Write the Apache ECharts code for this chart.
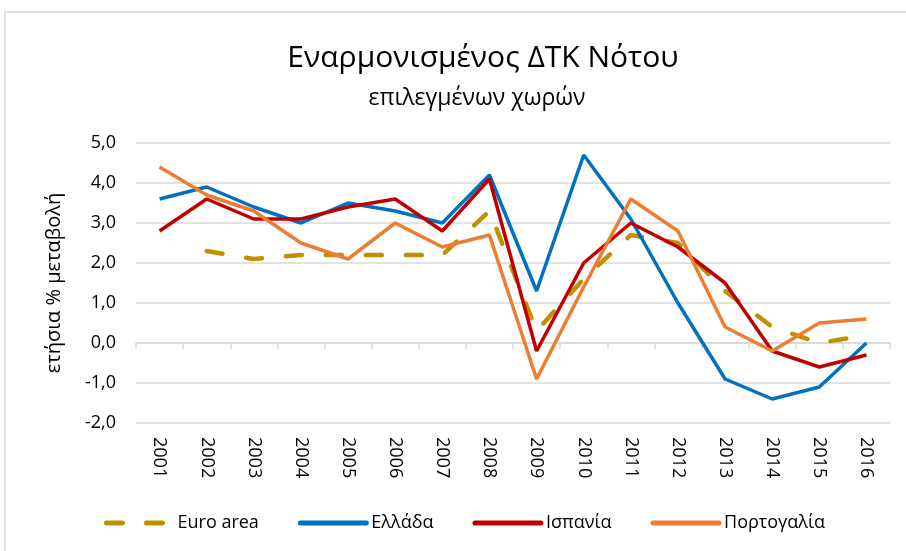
<!DOCTYPE html>
<html><head><meta charset="utf-8">
<script src="https://cdn.jsdelivr.net/npm/echarts@6/dist/echarts.min.js"></script>
<style>html,body{margin:0;padding:0;background:#fff}#c{width:906px;height:551px}</style>
</head><body><div id="c"></div>
<script>
const years = ['2001','2002','2003','2004','2005','2006','2007','2008','2009','2010','2011','2012','2013','2014','2015','2016'];
const euroArea = [null, 2.3, 2.1, 2.2, 2.2, 2.2, 2.2, 3.3, 0.3, 1.6, 2.7, 2.5, 1.3, 0.4, 0.0, 0.2];
const greece   = [3.6, 3.9, 3.4, 3.0, 3.5, 3.3, 3.0, 4.2, 1.3, 4.7, 3.1, 1.0, -0.9, -1.4, -1.1, 0.0];
const spain    = [2.8, 3.6, 3.1, 3.1, 3.4, 3.6, 2.8, 4.1, -0.2, 2.0, 3.0, 2.4, 1.5, -0.2, -0.6, -0.3];
const portugal = [4.4, 3.7, 3.3, 2.5, 2.1, 3.0, 2.4, 2.7, -0.9, 1.4, 3.6, 2.8, 0.4, -0.2, 0.5, 0.6];
const yTicks = [-2, -1, 0, 1, 2, 3, 4, 5];

const FONT = "'Open Sans', sans-serif";
const chart = echarts.init(document.getElementById('c'));
function mk(name, data, color, dashed) {
  return {
    name, type: 'line', data, xAxisIndex: 0, showSymbol: false, symbol: 'none',
    connectNulls: false,
    lineStyle: dashed ? {color, width: 4.5, type: [16, 24], cap: 'round'} : {color, width: 3.5},
    itemStyle: {color}
  };
}
chart.setOption({
  animation: false,
  title: [
    {text: 'Εναρμονισμένος ΔΤΚ Νότου', left: 478, top: 38, textAlign: 'center',
     textStyle: {fontFamily: FONT, fontSize: 30, fontWeight: 'normal', color: '#000'}},
    {text: 'επιλεγμένων χωρών', left: 472, top: 82, textAlign: 'center',
     textStyle: {fontFamily: FONT, fontSize: 23, fontWeight: 'normal', color: '#000'}}
  ],
  graphic: [
    {type: 'polyline', shape: {points: [[5, 551], [5, 12], [906, 12]]},
     style: {stroke: '#d9d9d9', lineWidth: 1.5, fill: null}}
  ],
  grid: {left: 136, right: 16, top: 143, bottom: 128, containLabel: false},
  legend: {
    left: 99, top: 509, itemWidth: 66, itemHeight: 10, itemGap: 39,
    itemStyle: {opacity: 0},
    lineStyle: {width: 5, cap: 'round'},
    textStyle: {fontFamily: FONT, fontSize: 18, color: '#000'},
    data: ['Euro area', 'Ελλάδα', 'Ισπανία', 'Πορτογαλία']
  },
  xAxis: [
    {type: 'category', data: years, position: 'bottom', boundaryGap: true,
     axisLine: {onZero: true, lineStyle: {color: '#d9d9d9', width: 1.5}},
     axisTick: {show: true, length: 6, lineStyle: {color: '#d9d9d9', width: 1.5}},
     axisLabel: {show: false}, splitLine: {show: false}},
    {type: 'category', data: years, position: 'bottom', boundaryGap: true,
     axisLine: {show: false, onZero: false}, axisTick: {show: false},
     axisLabel: {show: true, rotate: -90, margin: 14, fontFamily: FONT, fontSize: 18, color: '#000'},
     splitLine: {show: false}}
  ],
  yAxis: {
    type: 'value', min: yTicks[0], max: yTicks[yTicks.length - 1], interval: 1,
    name: 'ετήσια % μεταβολή', nameLocation: 'middle', nameGap: 72, nameRotate: 90,
    nameTextStyle: {fontFamily: FONT, fontSize: 20, color: '#000'},
    axisLine: {show: false}, axisTick: {show: false},
    axisLabel: {margin: 20, fontFamily: FONT, fontSize: 18, color: '#000',
      formatter: v => v.toFixed(1).replace('.', ',')},
    splitLine: {lineStyle: {color: '#d9d9d9', width: 1.5}}
  },
  series: [
    mk('Euro area', euroArea, '#bf9000', true),
    mk('Ελλάδα', greece, '#0070c0', false),
    mk('Ισπανία', spain, '#c00000', false),
    mk('Πορτογαλία', portugal, '#ed7d31', false)
  ]
});
</script></body></html>
